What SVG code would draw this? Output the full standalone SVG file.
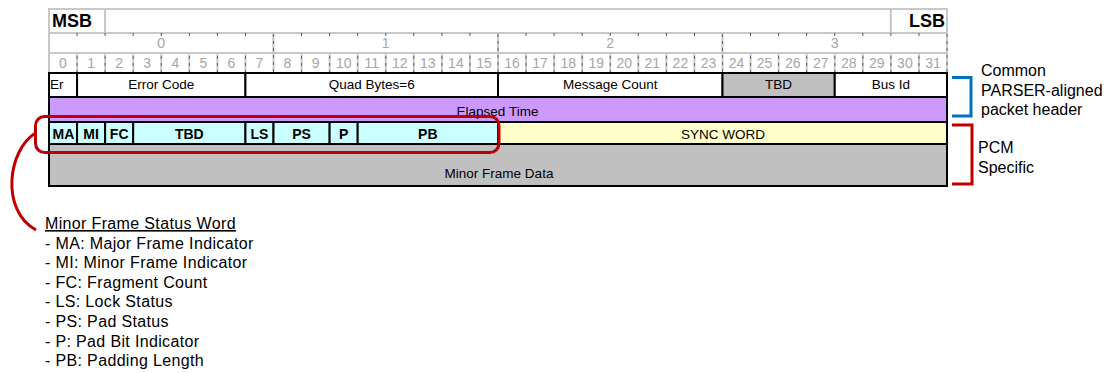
<svg xmlns="http://www.w3.org/2000/svg" width="1115" height="373" viewBox="0 0 1115 373">
<style>
.hdr{fill:#fff;stroke:#c8c8c8;stroke-width:2}
.fld{stroke:#000;stroke-width:2}
.t{font-family:"Liberation Sans",Arial,sans-serif;font-size:13.5px;fill:#000;text-anchor:middle}
.b{font-weight:bold;font-size:14px}
.n{fill:#a6a6a6;font-size:14px}
.big{font-weight:bold;font-size:18px;fill:#000}
.lbl{font-family:"Liberation Sans",Arial,sans-serif;font-size:16px;fill:#000}
.leg{font-family:"Liberation Sans",Arial,sans-serif;font-size:16px;fill:#000;letter-spacing:0.35px}
.tick{stroke:#555;stroke-width:1}
.dash{stroke:#666;stroke-width:1;stroke-dasharray:3 4}
</style>
<rect width="1115" height="373" fill="#fff"/>

<g id="header-row-msb">
<rect class="hdr" x="49" y="9" width="56.1" height="24"/>
<rect class="hdr" x="105.1" y="9" width="785.8" height="24"/>
<rect class="hdr" x="890.9" y="9" width="56.1" height="24"/>
<text class="t big" x="52" y="27" style="text-anchor:start">MSB</text>
<text class="t big" x="945" y="27" style="text-anchor:end">LSB</text>
</g>

<g id="header-row-bytes">
<rect class="hdr" x="49" y="33" width="224.5" height="20"/>
<rect class="hdr" x="273.5" y="33" width="224.5" height="20"/>
<rect class="hdr" x="498" y="33" width="224.5" height="20"/>
<rect class="hdr" x="722.5" y="33" width="224.5" height="20"/>
<text class="t n" x="161.2" y="48">0</text>
<text class="t n" x="385.7" y="48">1</text>
<text class="t n" x="610.2" y="48">2</text>
<text class="t n" x="834.7" y="48">3</text>
</g>

<g id="header-row-bits">
<rect class="hdr" x="49" y="53" width="898" height="20"/>
<g stroke="#c8c8c8" stroke-width="2">
<line x1="77.06" y1="53" x2="77.06" y2="73"/><line x1="105.13" y1="53" x2="105.13" y2="73"/><line x1="133.19" y1="53" x2="133.19" y2="73"/><line x1="161.25" y1="53" x2="161.25" y2="73"/><line x1="189.31" y1="53" x2="189.31" y2="73"/><line x1="217.38" y1="53" x2="217.38" y2="73"/><line x1="245.44" y1="53" x2="245.44" y2="73"/><line x1="273.5" y1="53" x2="273.5" y2="73"/><line x1="301.56" y1="53" x2="301.56" y2="73"/><line x1="329.63" y1="53" x2="329.63" y2="73"/><line x1="357.69" y1="53" x2="357.69" y2="73"/><line x1="385.75" y1="53" x2="385.75" y2="73"/><line x1="413.81" y1="53" x2="413.81" y2="73"/><line x1="441.88" y1="53" x2="441.88" y2="73"/><line x1="469.94" y1="53" x2="469.94" y2="73"/><line x1="498" y1="53" x2="498" y2="73"/><line x1="526.06" y1="53" x2="526.06" y2="73"/><line x1="554.13" y1="53" x2="554.13" y2="73"/><line x1="582.19" y1="53" x2="582.19" y2="73"/><line x1="610.25" y1="53" x2="610.25" y2="73"/><line x1="638.31" y1="53" x2="638.31" y2="73"/><line x1="666.38" y1="53" x2="666.38" y2="73"/><line x1="694.44" y1="53" x2="694.44" y2="73"/><line x1="722.5" y1="53" x2="722.5" y2="73"/><line x1="750.56" y1="53" x2="750.56" y2="73"/><line x1="778.63" y1="53" x2="778.63" y2="73"/><line x1="806.69" y1="53" x2="806.69" y2="73"/><line x1="834.75" y1="53" x2="834.75" y2="73"/><line x1="862.81" y1="53" x2="862.81" y2="73"/><line x1="890.88" y1="53" x2="890.88" y2="73"/><line x1="918.94" y1="53" x2="918.94" y2="73"/>
</g>
<g class="dash">
<line x1="77.06" y1="56" x2="77.06" y2="73"/><line x1="105.13" y1="56" x2="105.13" y2="73"/><line x1="133.19" y1="56" x2="133.19" y2="73"/><line x1="161.25" y1="56" x2="161.25" y2="73"/><line x1="189.31" y1="56" x2="189.31" y2="73"/><line x1="217.38" y1="56" x2="217.38" y2="73"/><line x1="245.44" y1="56" x2="245.44" y2="73"/><line x1="273.5" y1="34" x2="273.5" y2="73"/><line x1="301.56" y1="56" x2="301.56" y2="73"/><line x1="329.63" y1="56" x2="329.63" y2="73"/><line x1="357.69" y1="56" x2="357.69" y2="73"/><line x1="385.75" y1="56" x2="385.75" y2="73"/><line x1="413.81" y1="56" x2="413.81" y2="73"/><line x1="441.88" y1="56" x2="441.88" y2="73"/><line x1="469.94" y1="56" x2="469.94" y2="73"/><line x1="498" y1="34" x2="498" y2="73"/><line x1="526.06" y1="56" x2="526.06" y2="73"/><line x1="554.13" y1="56" x2="554.13" y2="73"/><line x1="582.19" y1="56" x2="582.19" y2="73"/><line x1="610.25" y1="56" x2="610.25" y2="73"/><line x1="638.31" y1="56" x2="638.31" y2="73"/><line x1="666.38" y1="56" x2="666.38" y2="73"/><line x1="694.44" y1="56" x2="694.44" y2="73"/><line x1="722.5" y1="34" x2="722.5" y2="73"/><line x1="750.56" y1="56" x2="750.56" y2="73"/><line x1="778.63" y1="56" x2="778.63" y2="73"/><line x1="806.69" y1="56" x2="806.69" y2="73"/><line x1="834.75" y1="56" x2="834.75" y2="73"/><line x1="862.81" y1="56" x2="862.81" y2="73"/><line x1="890.88" y1="56" x2="890.88" y2="73"/><line x1="918.94" y1="56" x2="918.94" y2="73"/><line x1="947" y1="34" x2="947" y2="73"/>
</g>
<g class="tick">
<line x1="77.06" y1="33" x2="77.06" y2="36"/><line x1="105.13" y1="33" x2="105.13" y2="36"/><line x1="133.19" y1="33" x2="133.19" y2="36"/><line x1="161.25" y1="33" x2="161.25" y2="36"/><line x1="189.31" y1="33" x2="189.31" y2="36"/><line x1="217.38" y1="33" x2="217.38" y2="36"/><line x1="245.44" y1="33" x2="245.44" y2="36"/><line x1="301.56" y1="33" x2="301.56" y2="36"/><line x1="329.63" y1="33" x2="329.63" y2="36"/><line x1="357.69" y1="33" x2="357.69" y2="36"/><line x1="385.75" y1="33" x2="385.75" y2="36"/><line x1="413.81" y1="33" x2="413.81" y2="36"/><line x1="441.88" y1="33" x2="441.88" y2="36"/><line x1="469.94" y1="33" x2="469.94" y2="36"/><line x1="526.06" y1="33" x2="526.06" y2="36"/><line x1="554.13" y1="33" x2="554.13" y2="36"/><line x1="582.19" y1="33" x2="582.19" y2="36"/><line x1="610.25" y1="33" x2="610.25" y2="36"/><line x1="638.31" y1="33" x2="638.31" y2="36"/><line x1="666.38" y1="33" x2="666.38" y2="36"/><line x1="694.44" y1="33" x2="694.44" y2="36"/><line x1="750.56" y1="33" x2="750.56" y2="36"/><line x1="778.63" y1="33" x2="778.63" y2="36"/><line x1="806.69" y1="33" x2="806.69" y2="36"/><line x1="834.75" y1="33" x2="834.75" y2="36"/><line x1="862.81" y1="33" x2="862.81" y2="36"/><line x1="890.88" y1="33" x2="890.88" y2="36"/><line x1="918.94" y1="33" x2="918.94" y2="36"/>
</g>
<g class="t n">
<text x="63" y="68">0</text><text x="91.1" y="68">1</text><text x="119.2" y="68">2</text><text x="147.2" y="68">3</text><text x="175.3" y="68">4</text><text x="203.3" y="68">5</text><text x="231.4" y="68">6</text><text x="259.5" y="68">7</text><text x="287.5" y="68">8</text><text x="315.6" y="68">9</text><text x="343.7" y="68">10</text><text x="371.7" y="68">11</text><text x="399.8" y="68">12</text><text x="427.8" y="68">13</text><text x="455.9" y="68">14</text><text x="484" y="68">15</text><text x="512" y="68">16</text><text x="540.1" y="68">17</text><text x="568.2" y="68">18</text><text x="596.2" y="68">19</text><text x="624.3" y="68">20</text><text x="652.3" y="68">21</text><text x="680.4" y="68">22</text><text x="708.5" y="68">23</text><text x="736.5" y="68">24</text><text x="764.6" y="68">25</text><text x="792.7" y="68">26</text><text x="820.7" y="68">27</text><text x="848.8" y="68">28</text><text x="876.8" y="68">29</text><text x="904.9" y="68">30</text><text x="933" y="68">31</text>
</g>
</g>

<g id="row-header-fields">
<rect id="f-er" class="fld" fill="#fff" x="49" y="73" width="28.06" height="24"/>
<rect id="f-errcode" class="fld" fill="#fff" x="77.06" y="73" width="168.38" height="24"/>
<rect id="f-quad" class="fld" fill="#fff" x="245.44" y="73" width="252.56" height="24"/>
<rect id="f-msgcount" class="fld" fill="#fff" x="498" y="73" width="224.5" height="24"/>
<rect id="f-tbd" class="fld" fill="#c0c0c0" x="722.5" y="73" width="112.25" height="24"/>
<rect id="f-busid" class="fld" fill="#fff" x="834.75" y="73" width="112.25" height="24"/>
<text class="t" x="50" y="89" style="text-anchor:start">Er</text>
<text class="t" x="161.2" y="89">Error Code</text>
<text class="t" x="371.7" y="89">Quad Bytes=6</text>
<text class="t" x="610.2" y="89">Message Count</text>
<text class="t" x="778.6" y="89">TBD</text>
<text class="t" x="890.9" y="89">Bus Id</text>
</g>

<g id="row-elapsed">
<rect class="fld" fill="#cc99ff" x="49" y="97" width="898" height="25"/>
<text class="t" x="497.5" y="116">Elapsed Time</text>
</g>

<g id="row-status">
<rect class="fld" fill="#ccffff" x="49" y="122" width="28.06" height="22"/>
<rect class="fld" fill="#ccffff" x="77.06" y="122" width="28.07" height="22"/>
<rect class="fld" fill="#ccffff" x="105.13" y="122" width="28.06" height="22"/>
<rect class="fld" fill="#ccffff" x="133.19" y="122" width="112.25" height="22"/>
<rect class="fld" fill="#ccffff" x="245.44" y="122" width="28.06" height="22"/>
<rect class="fld" fill="#ccffff" x="273.5" y="122" width="56.13" height="22"/>
<rect class="fld" fill="#ccffff" x="329.63" y="122" width="28.06" height="22"/>
<rect class="fld" fill="#ccffff" x="357.69" y="122" width="140.31" height="22"/>
<rect class="fld" fill="#ffffcc" x="498" y="122" width="449" height="22"/>
<g class="t b">
<text x="63.5" y="139">MA</text><text x="91.1" y="139">MI</text><text x="119.2" y="139">FC</text><text x="189.3" y="139">TBD</text><text x="259.5" y="139">LS</text><text x="301.6" y="139">PS</text><text x="343.7" y="139">P</text><text x="427.8" y="139">PB</text>
</g>
<text class="t" x="723" y="138.5">SYNC WORD</text>
</g>

<g id="row-minor-frame">
<rect class="fld" fill="#c0c0c0" x="49" y="144" width="898" height="42"/>
<text class="t" x="499" y="178">Minor Frame Data</text>
</g>

<g id="connectors" fill="none" stroke-width="3">
<rect id="status-highlight" x="35.5" y="116.5" width="463.5" height="36" rx="9" stroke="#c00000"/>
<path d="M35.5,133 C8,150 0,210 36,230" stroke="#c00000"/>
<path id="bracket-common" d="M952,77.5 H971 V116 H952" stroke="#0070c0"/>
<path id="bracket-pcm" d="M952,125 H972 V184 H952" stroke="#c00000"/>
</g>

<g id="label-common" class="lbl">
<text x="981" y="76">Common</text>
<text x="981" y="96">PARSER-aligned</text>
<text x="981" y="115">packet header</text>
</g>
<g id="label-pcm" class="lbl">
<text x="978" y="153">PCM</text>
<text x="978" y="173">Specific</text>
</g>

<g id="legend" class="leg">
<text x="45" y="229" text-decoration="underline">Minor Frame Status Word</text>
<text x="45" y="248.6">- MA: Major Frame Indicator</text>
<text x="45" y="268.2">- MI: Minor Frame Indicator</text>
<text x="45" y="287.8">- FC: Fragment Count</text>
<text x="45" y="307.4">- LS: Lock Status</text>
<text x="45" y="327">- PS: Pad Status</text>
<text x="45" y="346.6">- P: Pad Bit Indicator</text>
<text x="45" y="366.2">- PB: Padding Length</text>
</g>
</svg>
